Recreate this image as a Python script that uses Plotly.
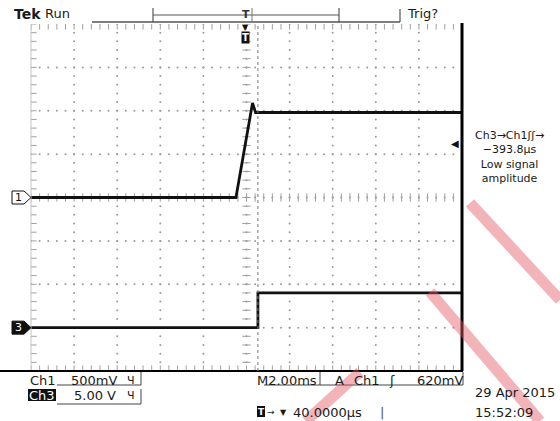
import numpy as np
import plotly.graph_objects as go

# ---- page / graticule geometry (pixels) ----
W, H = 560, 421
L, R, T, B = 31, 462, 24, 371

# ---- acquisition settings ----
time_per_div_ms = 2.0
ch1_volts_per_div = 0.5
ch3_volts_per_div = 5.0
ch1_offset_div = 0.0
ch3_offset_div = -3.0
trig_level_v = 0.62
trig_delay_ms = 0.04
cursor_t_ms = 0.53

# ---- waveforms (time in ms from screen centre, volts) ----
ch1_t = [-10.0, -0.49, 0.28, 0.42, 0.50, 10.0]
ch1_v = [0.0, 0.0, 1.09, 0.98, 0.98, 0.98]
ch3_t = [-10.0, 0.53, 0.53, 10.0]
ch3_v = [0.0, 0.0, 4.0, 4.0]

# ---- measurement readout lines ----
meas_lines = ["Ch3→Ch1ʃʃ→", "−393.8µs", "Low signal", "amplitude"]

FONT = "DejaVu Sans"
INK = "#1a1a1a"


def px_x(px):
    return (px - L) / (R - L)


def px_y(py):
    return (B - py) / (B - T)


DIV_PER_PX = 8 / (B - T)

fig = go.Figure()

# ---- graticule: dotted grid lines ----
minor_y = np.round(np.arange(-4, 4.001, 0.2), 3)
minor_x = np.round(np.arange(-10, 10.001, 0.4), 3)
gx, gy = [], []
for d in range(-4, 5):
    gx += [d * time_per_div_ms] * len(minor_y)
    gy += list(minor_y)
for d in range(-3, 4):
    gx += list(minor_x)
    gy += [d] * len(minor_x)
fig.add_trace(go.Scatter(x=gx, y=gy, mode="markers", hoverinfo="skip",
                         marker=dict(size=2, color="#9a9a9a", line=dict(width=0))))

# centre-line crossing ticks
fig.add_trace(go.Scatter(x=[0] * len(minor_y), y=minor_y, mode="markers", hoverinfo="skip",
                         marker=dict(symbol="line-ew", size=6, line=dict(width=1, color="#a0a0a0"))))
fig.add_trace(go.Scatter(x=minor_x, y=[0] * len(minor_x), mode="markers", hoverinfo="skip",
                         marker=dict(symbol="line-ns", size=6, line=dict(width=1, color="#a0a0a0"))))
# edge ticks (half clipped by the plot area -> point inward)
fig.add_trace(go.Scatter(x=[-10] * len(minor_y), y=minor_y, mode="markers", hoverinfo="skip",
                         marker=dict(symbol="line-ew", size=8, line=dict(width=1, color="#a0a0a0"))))
fig.add_trace(go.Scatter(x=list(minor_x) * 2, y=[4] * len(minor_x) + [-4] * len(minor_x),
                         mode="markers", hoverinfo="skip",
                         marker=dict(symbol="line-ns", size=8, line=dict(width=1, color="#a0a0a0"))))

# ---- waveforms ----
fig.add_trace(go.Scatter(x=ch1_t, y=[v / ch1_volts_per_div + ch1_offset_div for v in ch1_v],
                         mode="lines", hoverinfo="skip", line=dict(color="#111", width=2.8)))
fig.add_trace(go.Scatter(x=ch3_t, y=[v / ch3_volts_per_div + ch3_offset_div for v in ch3_v],
                         mode="lines", hoverinfo="skip", line=dict(color="#111", width=2.8)))

shapes = []
ann = []


def line_px(x0, y0, x1, y1, color="#444", width=1, dash="solid"):
    shapes.append(dict(type="line", xref="paper", yref="paper",
                       x0=px_x(x0), y0=px_y(y0), x1=px_x(x1), y1=px_y(y1),
                       line=dict(color=color, width=width, dash=dash), layer="above"))


def text_px(s, x, y, size=13, anchor="left", color=INK, bold=False, **kw):
    ann.append(dict(text=f"<b>{s}</b>" if bold else s, xref="paper", yref="paper",
                    x=px_x(x), y=px_y(y), xanchor=anchor, yanchor="middle",
                    showarrow=False, font=dict(family=FONT, size=size, color=color), **kw))


# graticule frame
line_px(L, T, L, B, color="#c4c4c4", width=1)
line_px(R, T - 1, R, B, color="#000", width=3)
line_px(0, B, R + 1, B, color="#000", width=2)

# cursor line
shapes.append(dict(type="line", xref="x", yref="paper", x0=cursor_t_ms, x1=cursor_t_ms,
                   y0=0, y1=1, line=dict(color="#777", width=1, dash="dot")))

# channel ground markers
for off, fill, txt_col, label in [(ch1_offset_div, "white", "#111", "1"),
                                  (ch3_offset_div, "#111", "white", "3")]:
    pts = [(12, 6.5), (24, 6.5), (31, 0), (24, -6.5), (12, -6.5)]
    path = "M " + " L ".join(f"{px_x(px)},{off + up * DIV_PER_PX}" for px, up in pts) + " Z"
    shapes.append(dict(type="path", xref="paper", yref="y", path=path,
                       fillcolor=fill, line=dict(color="#111", width=1)))
    ann.append(dict(text=label, xref="paper", yref="y", x=px_x(18.5), y=off,
                    xanchor="center", yanchor="middle", showarrow=False,
                    font=dict(family=FONT, size=11, color=txt_col)))

# trigger level arrow
ann.append(dict(text="◀", xref="paper", yref="y", x=px_x(455), y=trig_level_v / ch1_volts_per_div + ch1_offset_div,
                xanchor="center", yanchor="middle", showarrow=False,
                font=dict(family=FONT, size=10, color="#111")))

# trigger position marker under top edge
ann.append(dict(text="▼", xref="x", yref="paper", x=-trig_delay_ms, y=px_y(27),
                xanchor="center", yanchor="middle", showarrow=False,
                font=dict(family=FONT, size=8, color="#111")))
ann.append(dict(text="<b>T</b>", xref="x", yref="paper", x=-trig_delay_ms, y=px_y(37),
                xanchor="center", yanchor="middle", showarrow=False, bgcolor="#111",
                borderpad=0, font=dict(family=FONT, size=10, color="white")))

# ---- top status bar ----
text_px("Tek", 12, 14, size=14, bold=True)
text_px("Run", 43, 14, size=13)
line_px(92, 22, 400, 22, color="#555", width=1.5)
line_px(153, 15, 339, 15, color="#555", width=1)
line_px(153, 8, 153, 22, color="#555", width=1.2)
line_px(339, 8, 339, 22, color="#555", width=1.2)
line_px(400, 9, 400, 22, color="#555", width=1.2)
line_px(252, 8, 252, 22, color="#777", width=1)
text_px("T", 246, 15, size=11, anchor="center", bold=True, color="#333")
text_px("Trig?", 405, 13, size=13)

# ---- measurement readout on the right (one multi-line block) ----
text_px("<br>".join(meas_lines), 509, 156.5, size=11, anchor="center", align="center")

# ---- bottom readouts ----
text_px("Ch1", 28, 380)
text_px("500mV", 69, 380)
text_px("Ч", 131, 380, size=11, anchor="center")
line_px(57, 385, 141, 385)
line_px(141, 372, 141, 385)

shapes.append(dict(type="rect", xref="paper", yref="paper", x0=px_x(28), x1=px_x(56),
                   y0=px_y(401), y1=px_y(389), fillcolor="#111", line=dict(width=0)))
text_px("Ch3", 42, 395, anchor="center", color="white")
text_px("5.00 V", 72, 395)
text_px("Ч", 131, 395, size=11, anchor="center")
line_px(57, 404, 141, 404)
line_px(141, 389, 141, 404)

text_px("M2.00ms", 255, 380)
line_px(264, 385, 463, 385)
line_px(320, 372, 320, 385)
line_px(463, 372, 463, 385)
text_px("A", 333, 380)
text_px("Ch1", 352, 380)
text_px("ʃ", 392, 380, anchor="center")
text_px("620mV", 415, 380)

shapes.append(dict(type="rect", xref="paper", yref="paper", x0=px_x(257), x1=px_x(265),
                   y0=px_y(417), y1=px_y(406), fillcolor="#111", line=dict(width=0)))
text_px("T", 261, 411.5, size=9, anchor="center", color="white", bold=True)
text_px("→", 271, 412, size=9, anchor="center")
text_px("▼", 283, 412, size=8, anchor="center")
text_px("40.0000µs", 291, 412)
text_px("|", 378, 412, color="#555")
text_px("29 Apr 2015", 473, 392)
text_px("15:52:09", 473, 412)

# ---- diagonal stamp strokes ----
for (x0, y0, x1, y1) in [(470, 203, 560, 300), (430, 292, 540, 421), (360, 372, 306, 421)]:
    line_px(x0, y0, x1, y1, color="rgba(228,88,100,0.45)", width=11)

fig.update_layout(
    width=W, height=H,
    margin=dict(l=L, r=W - R, t=T, b=H - B, pad=0),
    paper_bgcolor="white", plot_bgcolor="white",
    showlegend=False,
    xaxis=dict(range=[-5 * time_per_div_ms, 5 * time_per_div_ms], visible=False, fixedrange=True),
    yaxis=dict(range=[-4, 4], visible=False, fixedrange=True),
    shapes=shapes, annotations=ann,
)

fig.write_html("out.html", config={"displayModeBar": False})
